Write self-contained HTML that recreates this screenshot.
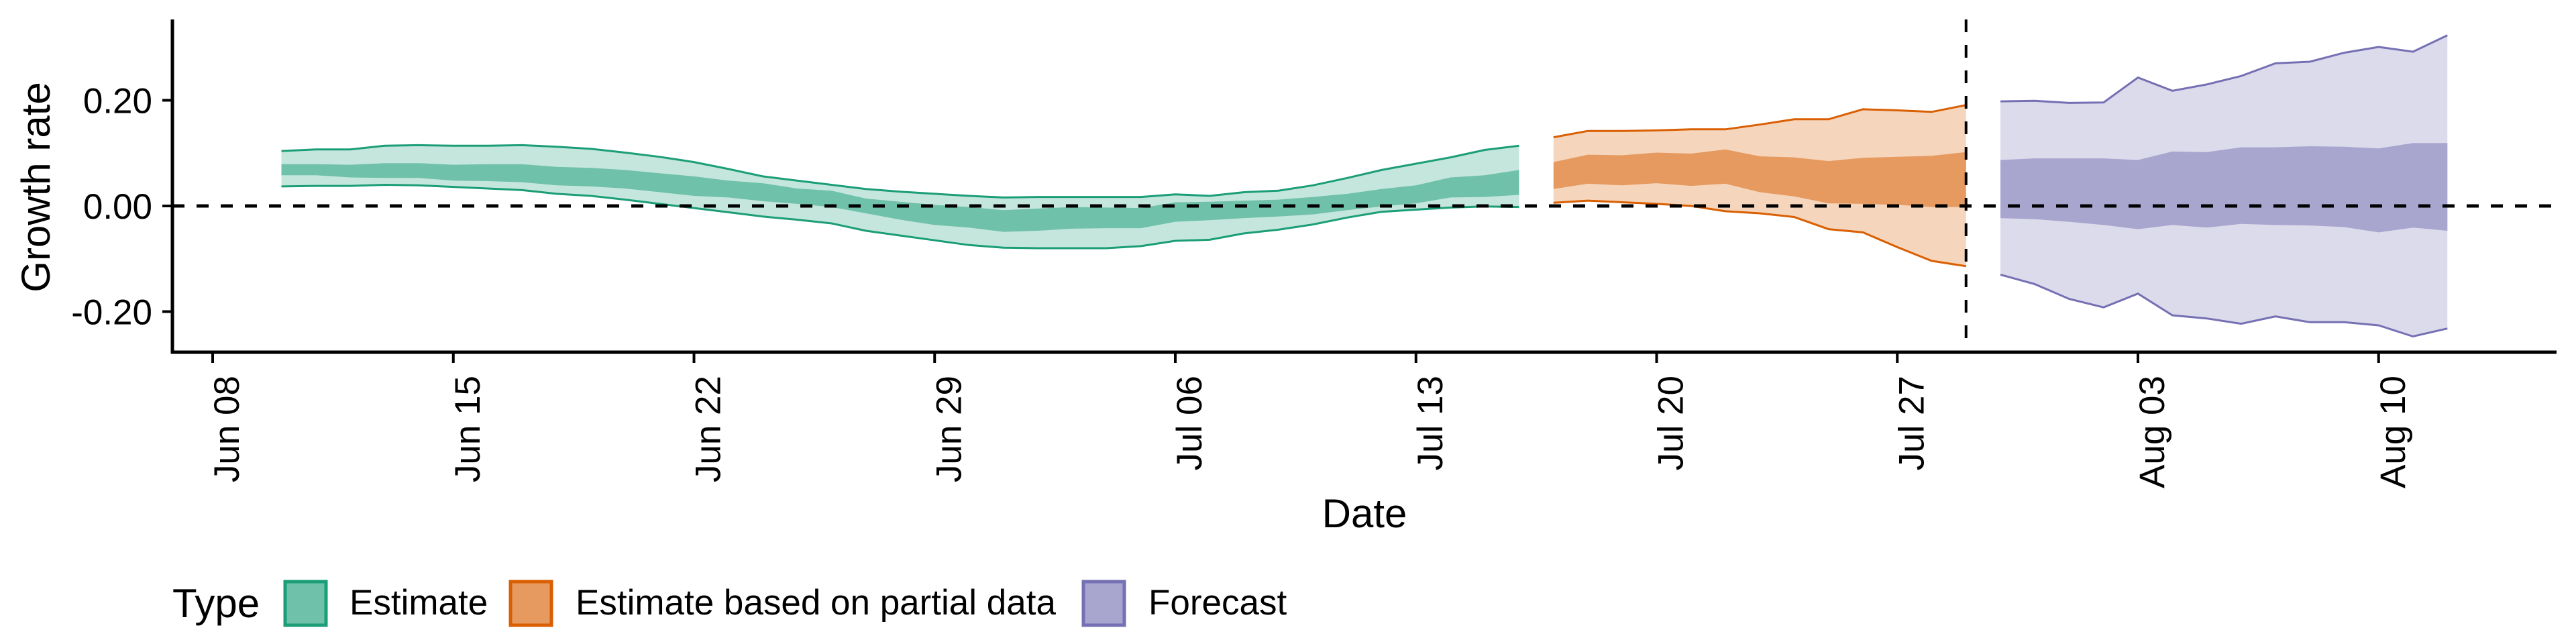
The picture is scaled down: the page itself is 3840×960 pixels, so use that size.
<!DOCTYPE html>
<html><head><meta charset="utf-8">
<style>
html,body{margin:0;padding:0;background:#fff;}
svg{display:block;font-family:"Liberation Sans",sans-serif;}
</style></head>
<body>
<svg id="chart" width="3840" height="960" viewBox="0 0 3840 960" xmlns="http://www.w3.org/2000/svg">
  <g id="bands"></g>
  <g id="axes"></g>
  <text x="0" y="0" font-size="60" text-anchor="middle" transform="translate(74,279) rotate(-90)">Growth rate</text>
  <text x="2034" y="786" font-size="60" text-anchor="middle">Date</text>
  <g>
    <text x="257" y="920" font-size="60">Type</text>
    <rect x="425" y="867" width="61" height="65" fill="#70c1a9" stroke="#1b9e77" stroke-width="5"/>
    <text x="521" y="916" font-size="53">Estimate</text>
    <rect x="761" y="867" width="61" height="65" fill="#e69a60" stroke="#d95f02" stroke-width="5"/>
    <text x="858" y="916" font-size="53">Estimate based on partial data</text>
    <rect x="1615" y="867" width="61" height="65" fill="#a8a5cf" stroke="#7570b3" stroke-width="5"/>
    <text x="1712" y="916" font-size="53">Forecast</text>
  </g>
</svg>
<script>
// x: day offset from Jun 08
const estStart = 2, partStart = 39, fcStart = 52;
const estOuterHi = [0.104,0.107,0.107,0.114,0.115,0.114,0.114,0.115,0.112,0.108,0.101,0.093,0.083,0.070,0.056,0.048,0.040,0.032,0.027,0.023,0.019,0.016,0.017,0.017,0.017,0.017,0.022,0.019,0.026,0.029,0.039,0.053,0.068,0.080,0.092,0.106,0.114];
const estInnerHi = [0.079,0.079,0.078,0.081,0.081,0.078,0.079,0.079,0.074,0.072,0.068,0.062,0.056,0.048,0.043,0.033,0.029,0.014,0.008,0.002,-0.002,-0.008,-0.005,-0.002,-0.003,-0.004,0.007,0.008,0.010,0.012,0.017,0.023,0.032,0.039,0.054,0.058,0.068];
const estInnerLo = [0.058,0.058,0.054,0.053,0.053,0.048,0.047,0.045,0.039,0.037,0.033,0.026,0.019,0.016,0.009,0.004,-0.002,-0.014,-0.026,-0.036,-0.041,-0.049,-0.047,-0.043,-0.042,-0.042,-0.030,-0.027,-0.023,-0.020,-0.016,-0.008,-0.001,0.005,0.016,0.017,0.021];
const estOuterLo = [0.037,0.038,0.038,0.040,0.039,0.036,0.033,0.030,0.023,0.019,0.012,0.004,-0.004,-0.012,-0.020,-0.026,-0.033,-0.047,-0.056,-0.065,-0.074,-0.079,-0.080,-0.080,-0.080,-0.076,-0.066,-0.064,-0.052,-0.045,-0.035,-0.022,-0.011,-0.007,-0.003,-0.001,-0.002];
const partOuterHi = [0.130,0.142,0.142,0.143,0.145,0.145,0.154,0.164,0.164,0.183,0.181,0.178,0.191];
const partInnerHi = [0.083,0.097,0.096,0.101,0.099,0.107,0.094,0.092,0.085,0.091,0.093,0.095,0.102];
const partInnerLo = [0.032,0.042,0.039,0.043,0.038,0.042,0.026,0.018,0.005,0.004,0.002,-0.002,-0.002];
const partOuterLo = [0.006,0.010,0.007,0.004,0.000,-0.010,-0.014,-0.021,-0.044,-0.050,-0.078,-0.104,-0.114];
const fcOuterHi = [0.198,0.199,0.195,0.196,0.243,0.218,0.230,0.246,0.270,0.273,0.290,0.301,0.292,0.323];
const fcInnerHi = [0.087,0.090,0.090,0.090,0.087,0.103,0.102,0.111,0.111,0.113,0.112,0.109,0.119,0.119];
const fcInnerLo = [-0.023,-0.025,-0.030,-0.036,-0.044,-0.036,-0.041,-0.034,-0.036,-0.037,-0.040,-0.050,-0.041,-0.047];
const fcOuterLo = [-0.130,-0.148,-0.176,-0.192,-0.166,-0.207,-0.213,-0.223,-0.209,-0.220,-0.220,-0.226,-0.247,-0.232];
const yTicks = [0.2, 0, -0.2];
const yTickLabels = ["0.20","0.00","-0.20"];
const xTickDays = [0,7,14,21,28,35,42,49,56,63];
const xTickLabels = ["Jun 08","Jun 15","Jun 22","Jun 29","Jul 06","Jul 13","Jul 20","Jul 27","Aug 03","Aug 10"];
const forecastDay = 51;

const NS = "http://www.w3.org/2000/svg";
function X(d){ return 317 + 51.25*d; }
function Y(v){ return 307 - 787.5*v; }
function mk(tag, attrs, parent){ const e=document.createElementNS(NS,tag); for(const k in attrs) e.setAttribute(k,attrs[k]); parent.appendChild(e); return e; }
const bands = document.getElementById('bands');
const axes = document.getElementById('axes');

function ribbon(start, hi, lo, fill, name){
  let pts = hi.map((v,i)=>X(start+i).toFixed(1)+','+Y(v).toFixed(1));
  for(let i=lo.length-1;i>=0;i--) pts.push(X(start+i).toFixed(1)+','+Y(lo[i]).toFixed(1));
  const p = mk('polygon',{points:pts.join(' '),fill:fill},bands);
  
  
}
function edge(start, vals, stroke, name){
  const pts = vals.map((v,i)=>X(start+i).toFixed(1)+','+Y(v).toFixed(1)).join(' ');
  const p = mk('polyline',{points:pts,fill:'none',stroke:stroke,'stroke-width':3},bands);
  
  
}
const series = [
  [estStart, estOuterHi, estInnerHi, estInnerLo, estOuterLo, '#c5e6dc', '#70c1a9', '#1b9e77', 'estimate'],
  [partStart, partOuterHi, partInnerHi, partInnerLo, partOuterLo, '#f5d6bd', '#e69a60', '#d95f02', 'partial'],
  [fcStart, fcOuterHi, fcInnerHi, fcInnerLo, fcOuterLo, '#dcdbeb', '#a8a5cf', '#7570b3', 'forecast']
];
series.forEach(s=>{
  ribbon(s[0], s[1], s[4], s[5], s[8]+'-outer-band');
  ribbon(s[0], s[2], s[3], s[6], s[8]+'-inner-band');
  edge(s[0], s[1], s[7], s[8]+'-upper-edge');
  edge(s[0], s[4], s[7], s[8]+'-lower-edge');
});

const z = mk('line',{x1:257,x2:3811,y1:Y(0),y2:Y(0),stroke:'#000','stroke-width':5,'stroke-dasharray':'18 18'},axes);


const fv = mk('line',{x1:X(forecastDay),x2:X(forecastDay),y1:29,y2:525,stroke:'#000','stroke-width':4,'stroke-dasharray':'19 19'},axes);


const ya = mk('line',{x1:257,x2:257,y1:29,y2:527,stroke:'#000','stroke-width':5},axes);


const xa = mk('line',{x1:255,x2:3811,y1:525,y2:525,stroke:'#000','stroke-width':5},axes);



yTicks.forEach((v,i)=>{
  const t = mk('line',{x1:242,x2:257,y1:Y(v),y2:Y(v),stroke:'#000','stroke-width':4},axes);
  
  
  const l = mk('text',{x:227,y:Y(v)+19,'font-size':53,'text-anchor':'end'},axes);
  
  
  l.textContent = yTickLabels[i];
});
xTickDays.forEach((d,i)=>{
  const x = X(d);
  const t = mk('line',{x1:x,x2:x,y1:525,y2:541,stroke:'#000','stroke-width':4},axes);
  
  
  const l = mk('text',{x:0,y:0,'font-size':53,'text-anchor':'end',transform:'translate('+(x+39)+',560) rotate(-90)'},axes);
  
  
  l.textContent = xTickLabels[i];
});
</script>
</body></html>
